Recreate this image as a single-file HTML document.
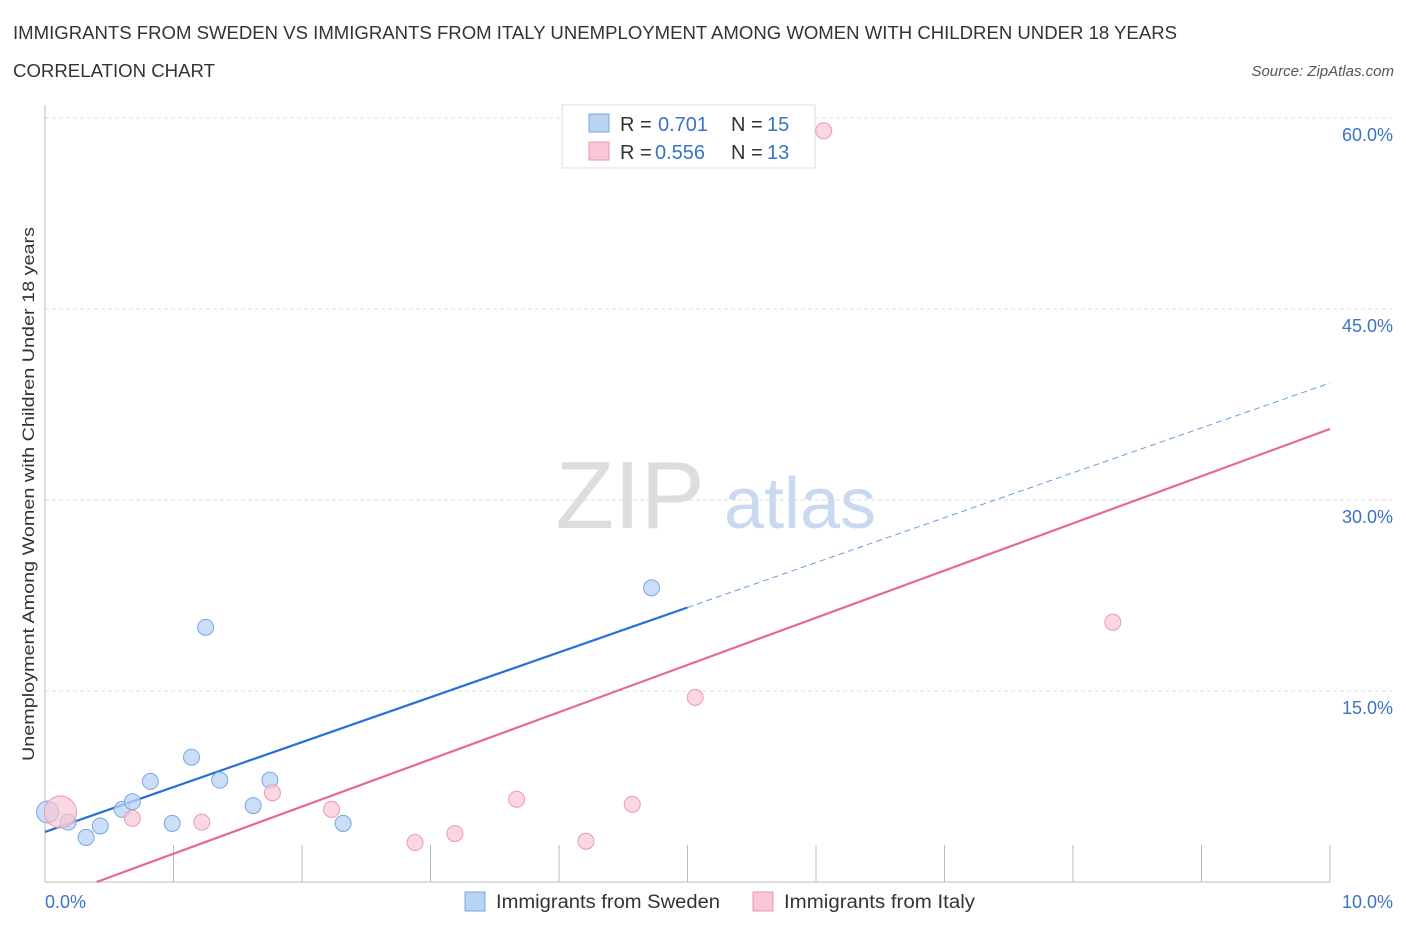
<!DOCTYPE html>
<html><head><meta charset="utf-8"><style>
body{margin:0;background:#fff;font-family:"Liberation Sans",sans-serif;}
svg text{font-family:"Liberation Sans",sans-serif;}
</style></head><body>
<svg id="chart" width="1406" height="930">
<text x="13" y="39" font-size="18" fill="#333" textLength="1164" lengthAdjust="spacingAndGlyphs">IMMIGRANTS FROM SWEDEN VS IMMIGRANTS FROM ITALY UNEMPLOYMENT AMONG WOMEN WITH CHILDREN UNDER 18 YEARS</text>
<text x="13" y="77" font-size="18" fill="#333" textLength="202" lengthAdjust="spacingAndGlyphs">CORRELATION CHART</text>
<text x="1394" y="76" font-size="15" fill="#555" font-style="italic" text-anchor="end">Source: ZipAtlas.com</text>
<text x="630" y="528" font-size="96" fill="#ddd" text-anchor="middle" font-family="Liberation Serif">ZIP</text>
<text x="800" y="528" font-size="72" fill="#c9d9ef" text-anchor="middle">atlas</text>
<g id="grid"></g><g id="axes"></g><g id="lines"></g><g id="points"></g>
<text transform="translate(34,494) rotate(-90)" font-size="17" fill="#333" text-anchor="middle" textLength="534" lengthAdjust="spacingAndGlyphs">Unemployment Among Women with Children Under 18 years</text>
<text x="45" y="908" font-size="18" fill="#3a73c8" text-anchor="start">0.0%</text>
<text x="1393" y="908" font-size="18" fill="#3a73c8" text-anchor="end">10.0%</text>
<g>
<rect x="562" y="105" width="253" height="63" fill="#fff" stroke="#ddd"/>
<rect x="589" y="114" width="20" height="18" fill="#b9d3f5" stroke="#7aa6e0"/>
<rect x="589" y="142" width="20" height="18" fill="#f8c6d4" stroke="#e99ab3"/>
<text x="620" y="131" font-size="20" fill="#333">R =</text>
<text x="658" y="131" font-size="20" fill="#3a73c8">0.701</text>
<text x="731" y="131" font-size="20" fill="#333">N =</text>
<text x="767" y="131" font-size="20" fill="#3a73c8">15</text>
<text x="620" y="159" font-size="20" fill="#333">R =</text>
<text x="655" y="159" font-size="20" fill="#3a73c8">0.556</text>
<text x="731" y="159" font-size="20" fill="#333">N =</text>
<text x="767" y="159" font-size="20" fill="#3a73c8">13</text>
</g>
<g>
<rect x="465" y="892" width="20" height="19" fill="#b9d3f5" stroke="#7aa6e0"/>
<text x="496" y="908" font-size="19" fill="#333" textLength="224" lengthAdjust="spacingAndGlyphs">Immigrants from Sweden</text>
<rect x="753" y="892" width="20" height="19" fill="#f8c6d4" stroke="#e99ab3"/>
<text x="784" y="908" font-size="19" fill="#333" textLength="191" lengthAdjust="spacingAndGlyphs">Immigrants from Italy</text>
</g>
</svg>
<script>
const yTicks=[15,30,45,60];
const yTickLabels=["15.0%","30.0%","45.0%","60.0%"];
const xTicks=[0,1,2,3,4,5,6,7,8,9,10];
const swedenX=[0.02,0.18,0.32,0.43,0.60,0.68,0.82,0.99,1.14,1.25,1.36,1.62,1.75,2.32,4.72];
const swedenY=[5.5,4.7,3.5,4.4,5.7,6.3,7.9,4.6,9.8,20.0,8.0,6.0,8.0,4.6,23.1];
const italyX=[0.12,0.68,1.22,1.77,2.23,2.88,3.19,3.67,4.21,4.57,5.06,6.06,8.31];
const italyY=[5.5,5.0,4.7,7.0,5.7,3.1,3.8,6.5,3.2,6.1,14.5,59.0,20.4];
const swedenTrend=[3.93,39.19];
const italyTrend=[-1.49,35.58];
const sx=v=>45+v*128.5, sy=v=>882-v*12.733;
const NS="http://www.w3.org/2000/svg";
function mk(t,a,p){const e=document.createElementNS(NS,t);for(const k in a)e.setAttribute(k,a[k]);document.getElementById(p).appendChild(e);return e;}
yTicks.forEach((t,i)=>{
 const g=mk('line',{x1:45,x2:1392,y1:sy(t),y2:sy(t),stroke:'#ddd','stroke-dasharray':'4,3'},'grid');
 
 
 const l=mk('text',{x:1393,y:sy(t)+23,'font-size':18,fill:'#3a73c8','text-anchor':'end'},'axes');
 l.textContent=yTickLabels[i];
 
 
});
let ax=mk('line',{x1:45,x2:1330,y1:882,y2:882,stroke:'#bbb'},'axes');


let ay=mk('line',{x1:45,x2:45,y1:105,y2:882,stroke:'#bbb'},'axes');


xTicks.forEach(t=>{const e=mk('line',{x1:sx(t),x2:sx(t),y1:882,y2:t==0?882:845,stroke:'#bbb'},'axes');
 
 });
const bmid=5;
let b1=mk('line',{x1:sx(0),y1:sy(swedenTrend[0]),x2:sx(bmid),y2:sy(swedenTrend[0]+(swedenTrend[1]-swedenTrend[0])*bmid/10),stroke:'#2a6fd6','stroke-width':2.2},'lines');


let b2=mk('line',{x1:sx(bmid),y1:sy(swedenTrend[0]+(swedenTrend[1]-swedenTrend[0])*bmid/10),x2:sx(10),y2:sy(swedenTrend[1]),stroke:'#6b9be0','stroke-width':1,'stroke-dasharray':'6,4'},'lines');


const i0=-italyTrend[0]/(italyTrend[1]-italyTrend[0])*10;
let p1=mk('line',{x1:sx(i0),y1:sy(0),x2:sx(10),y2:sy(italyTrend[1]),stroke:'#e56a93','stroke-width':2.2},'lines');


swedenX.forEach((x,i)=>{const c=mk('circle',{cx:sx(x),cy:sy(swedenY[i]),r:i==0?11:8,fill:'rgba(185,211,245,0.75)',stroke:'#7aa6e0','stroke-width':1},'points');
 
 });
italyX.forEach((x,i)=>{const c=mk('circle',{cx:sx(x),cy:sy(italyY[i]),r:i==0?16:8,fill:'rgba(248,198,212,0.7)',stroke:'#e99ab3','stroke-width':1},'points');
 
 });
</script>
</body></html>
